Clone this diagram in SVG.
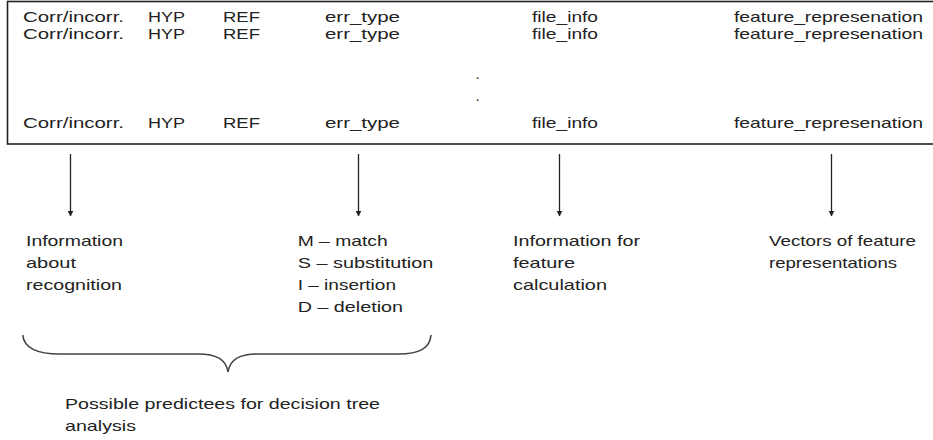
<svg xmlns="http://www.w3.org/2000/svg" width="933" height="440" viewBox="0 0 933 440">
  <defs>
    <style>
      text { font-family: "Liberation Sans", Arial, sans-serif; font-size: 15px; fill: #222; }
      .frame { fill: none; stroke: #222; stroke-width: 1.6; }
      .conn { stroke: #222; stroke-width: 1.3; fill: none; }
      .brace { fill: none; stroke: #444; stroke-width: 1.6; }
    </style>
    <marker id="head" viewBox="0 0 10 10" refX="9" refY="5" markerWidth="6" markerHeight="7" orient="auto" markerUnits="userSpaceOnUse">
      <path d="M0,0 L10,5 L0,10 z" fill="#222"/>
    </marker>
  </defs>

  <rect width="933" height="440" fill="#fff"/>

  <!-- record table -->
  <g id="records">
    <rect class="frame" x="7.5" y="1.5" width="940" height="142.5"/>
    <text x="23" y="22" textLength="101" lengthAdjust="spacingAndGlyphs">Corr/incorr.</text>
    <text x="148" y="22" textLength="37" lengthAdjust="spacingAndGlyphs">HYP</text>
    <text x="223" y="22" textLength="37" lengthAdjust="spacingAndGlyphs">REF</text>
    <text x="325" y="22" textLength="75" lengthAdjust="spacingAndGlyphs">err_type</text>
    <text x="532" y="22" textLength="66" lengthAdjust="spacingAndGlyphs">file_info</text>
    <text x="734" y="22" textLength="189" lengthAdjust="spacingAndGlyphs">feature_represenation</text>

    <text x="23" y="38.5" textLength="101" lengthAdjust="spacingAndGlyphs">Corr/incorr.</text>
    <text x="148" y="38.5" textLength="37" lengthAdjust="spacingAndGlyphs">HYP</text>
    <text x="223" y="38.5" textLength="37" lengthAdjust="spacingAndGlyphs">REF</text>
    <text x="325" y="38.5" textLength="75" lengthAdjust="spacingAndGlyphs">err_type</text>
    <text x="532" y="38.5" textLength="66" lengthAdjust="spacingAndGlyphs">file_info</text>
    <text x="734" y="38.5" textLength="189" lengthAdjust="spacingAndGlyphs">feature_represenation</text>

    <text x="475.5" y="79" fill="#777">.</text>
    <text x="475.5" y="101" fill="#777">.</text>

    <text x="23" y="127.5" textLength="101" lengthAdjust="spacingAndGlyphs">Corr/incorr.</text>
    <text x="148" y="127.5" textLength="37" lengthAdjust="spacingAndGlyphs">HYP</text>
    <text x="223" y="127.5" textLength="37" lengthAdjust="spacingAndGlyphs">REF</text>
    <text x="325" y="127.5" textLength="75" lengthAdjust="spacingAndGlyphs">err_type</text>
    <text x="532" y="127.5" textLength="66" lengthAdjust="spacingAndGlyphs">file_info</text>
    <text x="734" y="127.5" textLength="189" lengthAdjust="spacingAndGlyphs">feature_represenation</text>
  </g>

  <!-- downward arrows from the columns -->
  <g id="connectors">
    <line class="conn" x1="70.5" y1="154" x2="70.5" y2="216" marker-end="url(#head)"/>
    <line class="conn" x1="358.5" y1="154" x2="358.5" y2="216" marker-end="url(#head)"/>
    <line class="conn" x1="559.5" y1="154" x2="559.5" y2="216" marker-end="url(#head)"/>
    <line class="conn" x1="831.5" y1="154" x2="831.5" y2="216" marker-end="url(#head)"/>
  </g>

  <g id="recognition-info">
    <text x="26" y="246" textLength="97" lengthAdjust="spacingAndGlyphs">Information</text>
    <text x="26" y="268" textLength="50" lengthAdjust="spacingAndGlyphs">about</text>
    <text x="26" y="290" textLength="96" lengthAdjust="spacingAndGlyphs">recognition</text>
  </g>

  <g id="error-types">
    <text x="297.7" y="246" textLength="90" lengthAdjust="spacingAndGlyphs">M – match</text>
    <text x="297.7" y="268" textLength="135.6" lengthAdjust="spacingAndGlyphs">S – substitution</text>
    <text x="297.7" y="290" textLength="98.3" lengthAdjust="spacingAndGlyphs">I – insertion</text>
    <text x="297.7" y="312" textLength="105.3" lengthAdjust="spacingAndGlyphs">D – deletion</text>
  </g>

  <g id="feature-calc">
    <text x="513" y="246" textLength="127" lengthAdjust="spacingAndGlyphs">Information for</text>
    <text x="513" y="268" textLength="62" lengthAdjust="spacingAndGlyphs">feature</text>
    <text x="513" y="290" textLength="94" lengthAdjust="spacingAndGlyphs">calculation</text>
  </g>

  <g id="feature-vectors">
    <text x="769" y="246" textLength="147" lengthAdjust="spacingAndGlyphs">Vectors of feature</text>
    <text x="769" y="268" textLength="128" lengthAdjust="spacingAndGlyphs">representations</text>
  </g>

  <!-- brace grouping the first two columns -->
  <g id="predictees">
    <path class="brace" d="M22.7,335 C24,348 38,354 60,354 L198,354 C216,354 226,359 228,372 C230,359 240,354 258,354 L398,354 C420,354 430,348 431,335"/>
    <text x="65" y="409" textLength="315" lengthAdjust="spacingAndGlyphs">Possible predictees for decision tree</text>
    <text x="65" y="431" textLength="71" lengthAdjust="spacingAndGlyphs">analysis</text>
  </g>
</svg>
